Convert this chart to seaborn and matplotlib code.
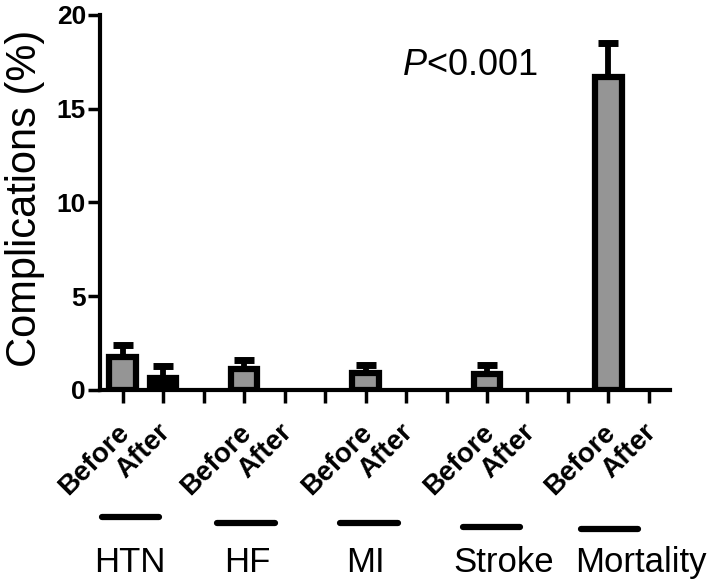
import numpy as np
import pandas as pd
import matplotlib
matplotlib.use("Agg")
import matplotlib.pyplot as plt
import matplotlib.transforms as mtransforms
import seaborn as sns

# values (percent)
groups = ["HTN", "HF", "MI", "Stroke", "Mortality"]
before = [1.76, 1.14, 0.90, 0.87, 16.67]
after = [0.66, 0.0, 0.0, 0.0, 0.0]
before_err = [0.64, 0.46, 0.42, 0.45, 1.82]
after_err = [0.62, 0.0, 0.0, 0.0, 0.0]
phase_labels = ["Before", "After"]
y_ticks = [0, 5, 10, 15, 20]
p_text = "$P$<0.001"

# layout of the group captions under the axis (offsets from the Before slot)
line_centre = [0.19, 0.05, 0.085, 0.11, 0.025]
line_y = [-0.338, -0.354, -0.354, -0.365, -0.370]
text_centre = [0.18, 0.07, 0.0, 0.42, 0.79]

rows = []
for g, name in enumerate(groups):
    rows.append({"slot": 3 * g, "phase": "Before", "value": before[g], "err": before_err[g]})
    rows.append({"slot": 3 * g + 1, "phase": "After", "value": after[g], "err": after_err[g]})
df = pd.DataFrame(rows)
shown = df[df["value"] > 0]

sns.set_style("ticks", {"axes.edgecolor": "black", "xtick.color": "black",
                        "ytick.color": "black", "text.color": "black",
                        "axes.labelcolor": "black"})
plt.rcParams["font.family"] = ["Liberation Sans", "DejaVu Sans"]
plt.rcParams["mathtext.fontset"] = "custom"
plt.rcParams["mathtext.rm"] = "Liberation Sans"
plt.rcParams["mathtext.it"] = "Liberation Sans:italic"

fig = plt.figure(figsize=(7.09, 5.82), dpi=100)
ax = fig.add_axes([0.141, 0.3299, 0.804, 0.6448])

sns.barplot(data=shown, x="slot", y="value", hue="phase", native_scale=True,
            dodge=False, width=0.65, palette={"Before": "#959595", "After": "black"},
            edgecolor="black", linewidth=4.5, errorbar=None, legend=False, ax=ax)

# upper error bars only, Prism style
has_err = shown[shown["err"] > 0]
ax.errorbar(has_err["slot"], has_err["value"],
            yerr=[np.zeros(len(has_err)), has_err["err"]],
            fmt="none", ecolor="black", elinewidth=4.2, capsize=7, capthick=5,
            zorder=1)
for bar in ax.patches:
    bar.set_zorder(2)

ax.set_xlim(-0.56, 13.52)
ax.set_ylim(0, 20)
ax.set_yticks(y_ticks)
ax.set_yticklabels([str(t) for t in y_ticks], fontsize=19, fontweight="bold")

ax.tick_params(axis="x", length=9, width=2.5, pad=12)
ax.tick_params(axis="y", length=9, width=2.5, pad=1)

n_slots = 3 * len(groups) - 1
tick_labels = []
for i in range(n_slots):
    k = i % 3
    tick_labels.append(phase_labels[k] if k < 2 else "")
ax.set_xticks(range(n_slots))
ax.set_xticklabels(tick_labels, rotation=45, ha="right", fontsize=20, fontweight="bold")
# nudge the slanted labels to the right, as in the original
shift = mtransforms.ScaledTranslation(9 / 72, 0, fig.dpi_scale_trans)
for tick in ax.xaxis.get_major_ticks():
    tick.label1.set_transform(tick.label1.get_transform() + shift)

for s in ["top", "right"]:
    ax.spines[s].set_visible(False)
for s in ["left", "bottom"]:
    ax.spines[s].set_linewidth(3)
ax.set_xlabel("")
ax.set_ylabel("Complications (%)", fontsize=30, va="center")
ax.yaxis.set_label_coords(-0.132, 0.51)

trans = mtransforms.blended_transform_factory(ax.transData, ax.transAxes)
for g, name in enumerate(groups):
    c = 3 * g + line_centre[g]
    ax.plot([c - 0.71, c + 0.71], [line_y[g], line_y[g]], color="black", lw=4.5,
            solid_capstyle="round", transform=trans, clip_on=False)
    ax.text(3 * g + text_centre[g], -0.485, name, transform=trans, ha="center",
            va="baseline", fontsize=25)

ax.text(8.58, 17.3, p_text, ha="center", va="center", fontsize=26)

fig.savefig("out.png", dpi=100)
